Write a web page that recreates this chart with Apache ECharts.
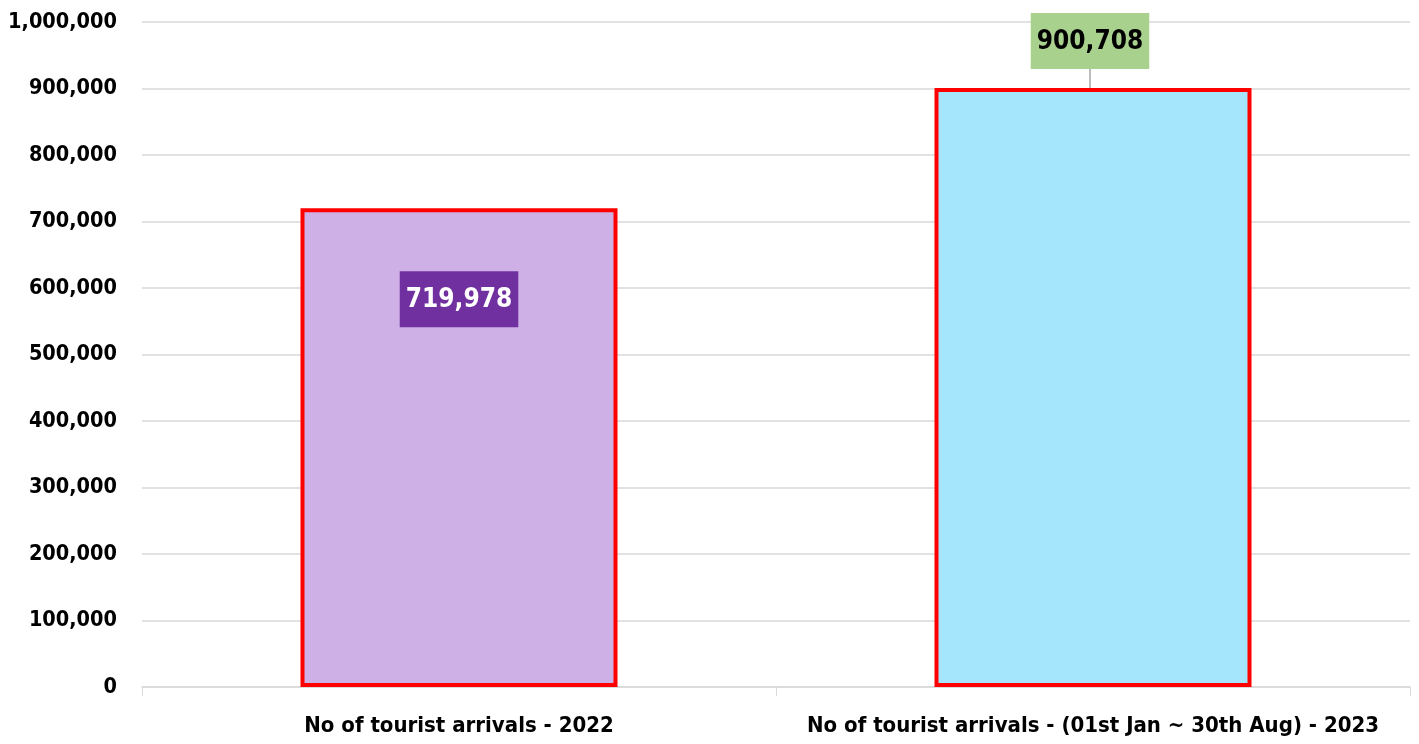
<!DOCTYPE html>
<html><head><meta charset="utf-8">
<script src="https://cdn.jsdelivr.net/npm/echarts@6/dist/echarts.min.js"></script>
<style>html,body{margin:0;padding:0;background:#fff}#c{width:1419px;height:744px}</style>
</head><body><div id="c"></div>
<script>
var categories = ['No of tourist arrivals - 2022', 'No of tourist arrivals - (01st Jan ~ 30th Aug) - 2023'];
var arrivals = [719978, 900708];
var barColors = ['#CEAFE6', '#A6E6FD'];
var FONT = '"Liberation Sans Narrow", "DejaVu Sans Condensed", "Open Sans", sans-serif';
var chart = echarts.init(document.getElementById('c'));
function fmt(v){ return v.toLocaleString('en-US'); }
chart.setOption({
  animation: false,
  grid: { left: 142, right: 9, top: 22, bottom: 57 },
  xAxis: {
    type: 'category', data: categories,
    axisLine: { lineStyle: { color: '#D9D9D9', width: 1.5 } },
    axisTick: { show: true, interval: 0, alignWithLabel: false, length: 9, lineStyle: { color: '#D9D9D9' } },
    axisLabel: { interval: 0, color: '#000', fontFamily: FONT, fontWeight: 'bold', fontSize: 22, margin: 28 }
  },
  yAxis: {
    type: 'value', min: 0, max: 1000000, interval: 100000,
    axisLine: { show: false }, axisTick: { show: false },
    splitLine: { lineStyle: { color: '#D9D9D9', width: 1.5 } },
    axisLabel: { color: '#000', fontFamily: FONT, fontWeight: 'bold', fontSize: 21.5, margin: 25, formatter: function(v){ return fmt(v); } }
  },
  series: [{
    type: 'bar', barWidth: '50%',
    data: [
      { value: arrivals[0], itemStyle: { color: barColors[0] },
        label: { show: true, position: 'insideTop', distance: 63, backgroundColor: '#7030A0', color: '#fff',
          padding: [16, 6, 14, 6], fontSize: 26, fontWeight: 'bold', fontFamily: FONT,
          formatter: function(p){ return fmt(p.value); } },
        labelLine: { show: false } },
      { value: arrivals[1], itemStyle: { color: barColors[1] },
        label: { show: true, position: 'top', distance: 0, backgroundColor: '#A9D18E', color: '#000',
          padding: [16, 6, 14, 6], fontSize: 26, fontWeight: 'bold', fontFamily: FONT,
          formatter: function(p){ return fmt(p.value); } } }
    ],
    labelLayout: function(params){ return params.dataIndex === 1 ? { dy: -19, dx: -3 } : {}; },
    labelLine: { show: true, lineStyle: { color: '#A6A6A6', width: 1.5 } },
    itemStyle: { borderColor: '#FF0000', borderWidth: 4 }
  }]
});
</script></body></html>
